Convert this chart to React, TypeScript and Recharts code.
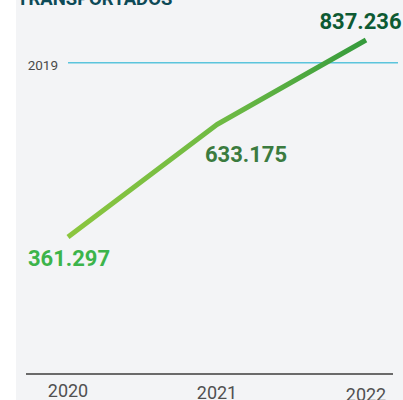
import React from 'react';
import { LineChart, Line, XAxis, YAxis, ReferenceLine, LabelList } from 'recharts';

const years = ['2020', '2021', '2022'];
const passengers = [361297, 633175, 837236];
const valueLabels = ['361.297', '633.175', '837.236'];
const refYear = '2019';
const refValue = 782000;
const title = 'TRANSPORTADOS';

const data = years.map((y, i) => ({ year: y, value: passengers[i], label: valueLabels[i] }));

const labelColors = ['#3cb44b', '#3b7b3f', '#0d5a33'];
const labelOffsets = [
  { dx: 1, dy: 28.5, anchor: 'middle' },
  { dx: -12, dy: 38, anchor: 'start' },
  { dx: -5.5, dy: -11, anchor: 'middle' },
];
const tickBaselines = [397, 399, 401];

const FONT = 'Roboto, "Noto Sans", sans-serif';

const ValueLabel = (props: any) => {
  const { x, y, index, value } = props;
  const o = labelOffsets[index];
  return (
    <text
      x={x + o.dx}
      y={y + o.dy}
      textAnchor={o.anchor}
      fill={labelColors[index]}
      fontFamily={FONT}
      fontWeight={700}
      fontSize={22}
    >
      {valueLabels[index] ?? value}
    </text>
  );
};

const YearTick = (props: any) => {
  const { x, payload, index } = props;
  return (
    <text x={x} y={tickBaselines[index]} textAnchor="middle" fill="#505050" fontFamily={FONT} fontSize={18}>
      {payload.value}
    </text>
  );
};

const RefShape = (props: any) => {
  const { x1, y1, x2 } = props;
  return (
    <g>
      <line x1={x1 + 42} y1={y1} x2={x2 + 5} y2={y1} stroke="#5bc4dc" strokeWidth={1.5} />
      <text x={x1 + 32} y={y1 + 7} textAnchor="end" fill="#4a4a4a" fontFamily={FONT} fontSize={13.5}>
        {refYear}
      </text>
    </g>
  );
};

export default function App() {
  return (
    <div style={{ position: 'absolute', left: 0, top: 0, width: 403, height: 400, background: '#ffffff', overflow: 'hidden' }}>
      <div style={{ position: 'absolute', left: 16, top: 0, width: 387, height: 400, background: '#f3f4f6' }} />
      <div
        style={{
          position: 'absolute',
          left: 17,
          top: -12,
          fontFamily: FONT,
          fontWeight: 700,
          fontSize: 18.5,
          lineHeight: '22px',
          color: '#0d4a57',
          whiteSpace: 'nowrap',
        }}
      >
        {title}
      </div>
      <div style={{ position: 'absolute', left: 0, top: 0 }}>
        <LineChart width={403} height={400} data={data} margin={{ top: 14, right: 10, bottom: 0, left: 26 }}>
          <defs>
            <linearGradient id="lineGrad" x1="0" y1="0" x2="1" y2="0">
              <stop offset="0%" stopColor="#8cc63f" />
              <stop offset="55%" stopColor="#6cb944" />
              <stop offset="100%" stopColor="#349a3c" />
            </linearGradient>
          </defs>
          <XAxis
            dataKey="year"
            height={26}
            padding={{ left: 42, right: 27 }}
            axisLine={{ stroke: '#6a6a6a', strokeWidth: 2 }}
            tickLine={false}
            tick={<YearTick />}
            interval={0}
          />
          <YAxis hide domain={[30500, 900000]} />
          <ReferenceLine y={refValue} shape={(p: any) => <RefShape {...p} />} ifOverflow="visible" />
          <Line
            type="linear"
            dataKey="value"
            stroke="url(#lineGrad)"
            strokeWidth={5}
            dot={false}
            activeDot={false}
            isAnimationActive={false}
            strokeLinecap="butt"
            strokeLinejoin="round"
          >
            <LabelList dataKey="label" content={<ValueLabel />} />
          </Line>
        </LineChart>
      </div>
    </div>
  );
}
